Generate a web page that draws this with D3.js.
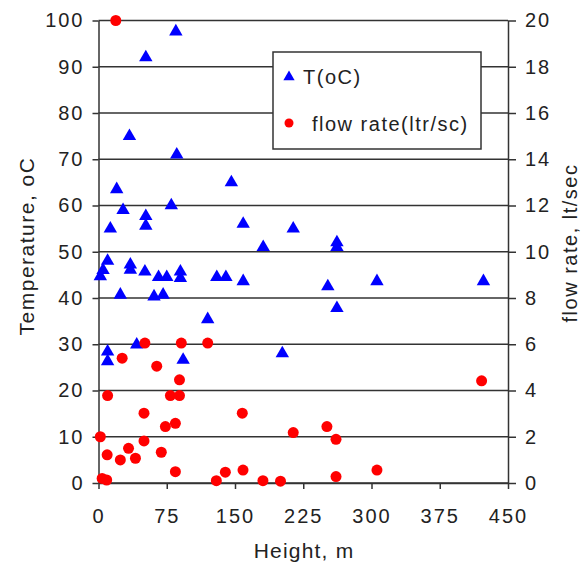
<!DOCTYPE html>
<html>
<head>
<meta charset="utf-8">
<script src="https://cdn.jsdelivr.net/npm/d3@7"></script>
<style>
  body { margin: 0; background: #fff; }
  text { font-family: "Liberation Sans", Arial, sans-serif; fill: #222; }
</style>
</head>
<body>
<div class="chart"></div>
<script>
// temperature points: height (m), T (oC)
var tempHeight = [85, 52, 34, 86, 146, 20, 27, 52, 52, 80, 13, 159, 181, 214, 262, 262,
  252, 306, 423, 262, 202, 10, 5, 2, 35, 35, 51, 66, 75, 90, 90, 130, 140, 159,
  24, 61, 71, 120, 42, 10, 10, 93];
var tempValue = [97.6, 92, 75, 71, 65, 63.5, 59, 57.7, 55.6, 60, 55, 56, 51, 55, 52, 51,
  42.5, 43.6, 43.6, 37.8, 28, 48, 46, 44.7, 47.2, 46.1, 45.7, 44.5, 44.5, 45.7, 44.3, 44.5, 44.5, 43.6,
  40.7, 40.3, 40.7, 35.4, 29.9, 28.4, 26.3, 26.6];

// flow rate points: height (m), flow (ltr/sc)
var flowHeight = [19, 51, 91, 120, 26, 64, 89, 10, 79, 89, 50, 158, 73.5, 84.5, 2, 50,
  33, 9.5, 24, 40.6, 69, 84.5, 4, 9, 129.5, 139.4, 158.8, 180.7, 200, 214, 251, 261,
  261, 306, 421];
var flowValue = [20, 6.05, 6.05, 6.05, 5.4, 5.05, 4.46, 3.78, 3.78, 3.78, 3.02, 3.02, 2.44, 2.58, 2.0, 1.82,
  1.5, 1.22, 1.0, 1.07, 1.33, 0.49, 0.2, 0.13, 0.1, 0.47, 0.56, 0.1, 0.08, 2.18, 2.44, 1.89,
  0.28, 0.56, 4.42];

var xTicks = [0, 75, 150, 225, 300, 375, 450];
var tempTicks = [0, 10, 20, 30, 40, 50, 60, 70, 80, 90, 100];
var flowTicks = [0, 2, 4, 6, 8, 10, 12, 14, 16, 18, 20];
var seriesNames = ["T(oC)", "flow rate(ltr/sc)"];

var W = 582, H = 565;
var plotL = 98.5, plotR = 508, plotT = 20.5, plotB = 483;

var svg = d3.select(".chart").append("svg")
    .attr("width", W)
    .attr("height", H);

svg.append("rect").attr("width", W).attr("height", H).attr("fill", "#fff");

var x = d3.scaleLinear().domain([0, 450]).range([plotL, plotR]);
var yT = d3.scaleLinear().domain([0, 100]).range([plotB, plotT]);
var yF = d3.scaleLinear().domain([0, 20]).range([plotB, plotT]);

// gridlines
svg.append("g").selectAll("line")
    .data(tempTicks)
    .enter().append("line")
    .attr("x1", plotL).attr("x2", plotR)
    .attr("y1", function(d) { return yT(d); })
    .attr("y2", function(d) { return yT(d); })
    .attr("stroke", "#333")
    .attr("stroke-width", 1.5);

function styleAxis(g) {
  g.select(".domain").attr("stroke", "#333").attr("stroke-width", 1.5);
  g.selectAll(".tick line").attr("stroke", "#333").attr("stroke-width", 1.5);
  g.selectAll(".tick text")
    .style("font-family", '"Liberation Sans", Arial, sans-serif')
    .style("font-size", "20px")
    .style("letter-spacing", "2px")
    .attr("fill", "#222");
}

var yAxisL = d3.axisLeft(yT).tickValues(tempTicks).tickSizeInner(6).tickSizeOuter(0).tickPadding(8);
svg.append("g")
    .attr("transform", "translate(" + plotL + ",0)")
    .call(yAxisL)
    .call(styleAxis);

var yAxisR = d3.axisRight(yF).tickValues(flowTicks).tickSizeInner(8).tickSizeOuter(0).tickPadding(9);
svg.append("g")
    .attr("transform", "translate(" + plotR + ",0)")
    .call(yAxisR)
    .call(styleAxis);

var xAxis = d3.axisBottom(x).tickValues(xTicks).tickSizeInner(6).tickSizeOuter(0).tickPadding(20);
svg.append("g")
    .attr("transform", "translate(0," + plotB + ")")
    .call(xAxis)
    .call(styleAxis);

// axis titles
svg.append("text")
    .attr("transform", "translate(34," + 246 + ") rotate(-90)")
    .attr("text-anchor", "middle")
    .style("font-size", "21px")
    .style("letter-spacing", "1.5px")
    .text("Temperature, oC");

svg.append("text")
    .attr("transform", "translate(577," + 243 + ") rotate(-90)")
    .attr("text-anchor", "middle")
    .style("font-size", "20px")
    .style("letter-spacing", "1.5px")
    .text("flow rate, lt/sec");

svg.append("text")
    .attr("x", 304)
    .attr("y", 558)
    .attr("text-anchor", "middle")
    .style("font-size", "21px")
    .style("letter-spacing", "1.2px")
    .text("Height, m");

// points
var tri = d3.symbol().type(d3.symbolTriangle).size(78);

svg.append("g").selectAll("path")
    .data(d3.range(tempHeight.length))
    .enter().append("path")
    .attr("d", tri)
    .attr("transform", function(i) { return "translate(" + x(tempHeight[i]) + "," + yT(tempValue[i]) + ")"; })
    .attr("fill", "#0000ff");

svg.append("g").selectAll("circle")
    .data(d3.range(flowHeight.length))
    .enter().append("circle")
    .attr("cx", function(i) { return x(flowHeight[i]); })
    .attr("cy", function(i) { return yF(flowValue[i]); })
    .attr("r", 5.5)
    .attr("fill", "#ff0000");

// legend
var legend = svg.append("g").attr("transform", "translate(273,52)");
legend.append("rect")
    .attr("width", 208).attr("height", 97)
    .attr("fill", "#fff")
    .attr("stroke", "#333")
    .attr("stroke-width", 1.5);

legend.append("path")
    .attr("d", d3.symbol().type(d3.symbolTriangle).size(55))
    .attr("transform", "translate(16,25)")
    .attr("fill", "#0000ff");
legend.append("text")
    .attr("x", 30).attr("y", 32)
    .style("font-size", "20px")
    .style("letter-spacing", "1.5px")
    .text(seriesNames[0]);

legend.append("circle")
    .attr("cx", 16).attr("cy", 71).attr("r", 4.5)
    .attr("fill", "#ff0000");
legend.append("text")
    .attr("x", 39).attr("y", 79)
    .style("font-size", "20px")
    .style("letter-spacing", "1.5px")
    .text(seriesNames[1]);
</script>
</body>
</html>
